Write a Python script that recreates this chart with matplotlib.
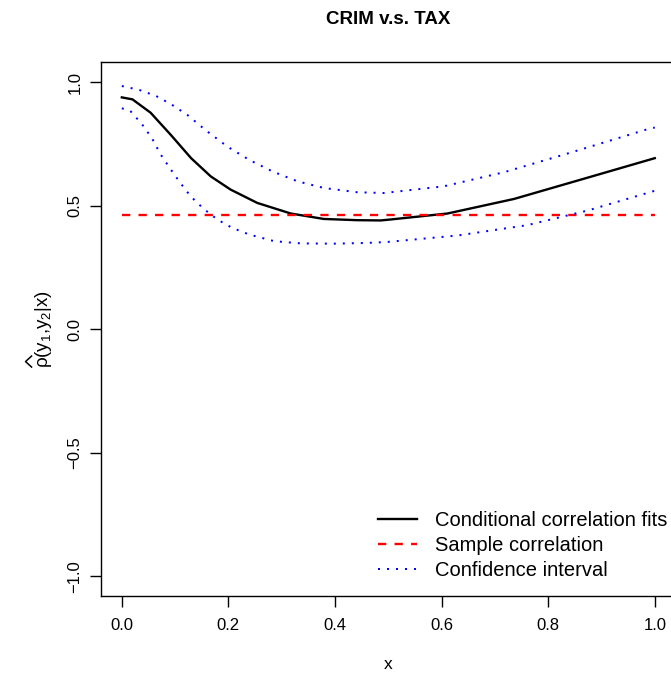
import numpy as np
import matplotlib
matplotlib.use("Agg")
from matplotlib import pyplot as plt
from matplotlib.lines import Line2D

# values
fit_x = [0.0, 0.02, 0.054, 0.092, 0.13, 0.167, 0.204, 0.254, 0.317, 0.379,
         0.442, 0.486, 0.505, 0.611, 0.736, 0.861, 1.0]
fit_y = [0.938, 0.93, 0.876, 0.786, 0.692, 0.618, 0.565, 0.511, 0.468, 0.446,
         0.441, 0.44, 0.444, 0.468, 0.527, 0.605, 0.692]

upper_x = [0.0, 0.033, 0.064, 0.092, 0.123, 0.158, 0.198, 0.239, 0.283, 0.33,
           0.38, 0.442, 0.492, 0.604, 0.717, 0.829, 0.986, 1.0]
upper_y = [0.984, 0.968, 0.944, 0.911, 0.867, 0.804, 0.739, 0.685, 0.638, 0.598,
           0.571, 0.554, 0.551, 0.578, 0.635, 0.706, 0.809, 0.816]

lower_x = [0.0, 0.016, 0.038, 0.057, 0.072, 0.09, 0.109, 0.129, 0.153, 0.179,
           0.207, 0.239, 0.286, 0.336, 0.398, 0.461, 0.499, 0.63, 0.761, 0.874, 1.0]
lower_y = [0.894, 0.883, 0.829, 0.771, 0.71, 0.652, 0.594, 0.538, 0.488, 0.444,
           0.41, 0.383, 0.356, 0.347, 0.346, 0.349, 0.353, 0.379, 0.421, 0.48, 0.56]

sample_corr = 0.461

plt.rcParams['font.family'] = ['Liberation Sans', 'DejaVu Sans']
plt.rcParams['mathtext.fontset'] = 'custom'
plt.rcParams['mathtext.rm'] = 'Liberation Sans'
plt.rcParams['mathtext.it'] = 'Liberation Sans'

fig = plt.figure(figsize=(6.71, 6.77), dpi=100)
ax = fig.add_axes([100.5 / 671, 81 / 677, 575.6 / 671, 533.7 / 677])

ax.plot(fit_x, fit_y, color='black', lw=1.7, label='Conditional correlation fits')
ax.plot([0, 1], [sample_corr, sample_corr], color='red', lw=1.7,
        dashes=(3.5, 3.5), label='Sample correlation')
ax.plot(upper_x, upper_y, color='blue', lw=1.44, dashes=(1, 3.5),
        dash_capstyle='butt', label='Confidence interval')
ax.plot(lower_x, lower_y, color='blue', lw=1.44, dashes=(1, 3.5),
        dash_capstyle='butt')

ax.set_xlim(-0.04, 1.04)
ax.set_ylim(-1.08, 1.08)
ax.set_xticks([0.0, 0.2, 0.4, 0.6, 0.8, 1.0])
ax.set_yticks([-1.0, -0.5, 0.0, 0.5, 1.0])
ax.set_xticklabels(['0.0', '0.2', '0.4', '0.6', '0.8', '1.0'])
ax.set_yticklabels(['\u22121.0', '\u22120.5', '0.0', '0.5', '1.0'],
                   rotation=90, va='center')
ax.tick_params(labelsize=12, length=8, width=1, pad=8)
ax.tick_params(axis='y', pad=5)
for s in ax.spines.values():
    s.set_linewidth(1)

ax.set_xlabel('x', fontsize=12.5, labelpad=17)
ax.set_ylabel(r'$\rho(y_1{,}y_2|x)$', fontsize=13.5, labelpad=10)
fig.suptitle('CRIM v.s. TAX', fontsize=13.5, fontweight='bold',
             x=388 / 671, y=1 - 19 / 677, va='center')

ax.legend(loc='upper left',
          bbox_to_anchor=((378.3 - 100.5) / 575.6, (596 - 511) / 533.7),
          frameon=False, fontsize=14.5, handlelength=1.9, handletextpad=0.9,
          labelspacing=0.3, borderaxespad=0, borderpad=0)

# R draws a wide hat over rho; draw it as a small chevron beside the rotated label
fig.canvas.draw()
bb = ax.yaxis.label.get_window_extent()
inv = fig.transFigure.inverted()
hat = inv.transform([(bb.x0 - 1, bb.y0 + 1), (bb.x0 - 7, bb.y0 + 6.5),
                     (bb.x0 - 1, bb.y0 + 12)])
fig.add_artist(Line2D(hat[:, 0], hat[:, 1], transform=fig.transFigure,
                      color='black', lw=1.1))

plt.savefig('out.png', dpi=100)
